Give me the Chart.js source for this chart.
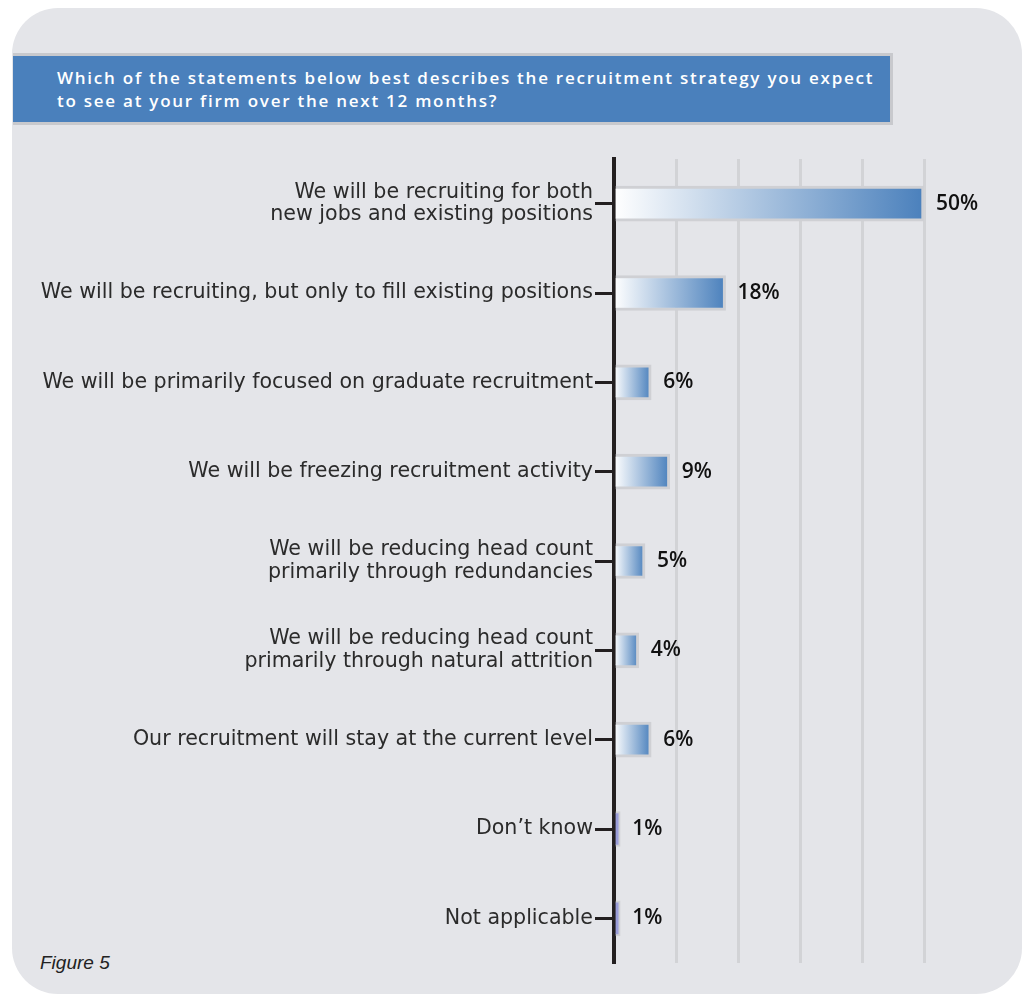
<!DOCTYPE html>
<html>
<head>
<meta charset="utf-8">
<script src="https://cdn.jsdelivr.net/npm/chart.js@4"></script>
<style>
  body { margin: 0; background: #ffffff; }
  .panel {
    position: absolute; left: 12px; top: 8px; width: 1010px; height: 986px;
    background: #e4e5e9; border-radius: 46px;
  }
  .question {
    position: absolute; left: 13px; top: 53px; width: 877px; height: 66px;
    background: #4a80bc; border: 3px solid #c8c9cd; border-left: none;
    color: #ffffff; font-family: "Open Sans", sans-serif; font-weight: 600;
    font-size: 17px; letter-spacing: 1.75px; line-height: 23px;
  }
  .question div { position: absolute; left: 44px; top: 10px; white-space: nowrap; }
  .figure {
    position: absolute; left: 40px; top: 952px;
    font-family: "Liberation Sans", Arial, sans-serif; font-style: italic;
    font-size: 19px; color: #222;
  }
  #wrap { position: absolute; left: 0; top: 0; width: 1028px; height: 995px; }
</style>
</head>
<body>
<div class="panel"></div>
<div class="question"><div>Which of the statements below best describes the recruitment strategy you expect<br>to see at your firm over the next 12 months?</div></div>
<div class="figure">Figure 5</div>
<div id="wrap"><canvas id="strategyChart" width="1028" height="995"></canvas></div>

<script>
// ---------- DATA ----------
const statements = [
    ["We will be recruiting for both", "new jobs and existing positions"],
    "We will be recruiting, but only to fill existing positions",
    "We will be primarily focused on graduate recruitment",
    "We will be freezing recruitment activity",
    ["We will be reducing head count", "primarily through redundancies"],
    ["We will be reducing head count", "primarily through natural attrition"],
    "Our recruitment will stay at the current level",
    "Don\u2019t know",
    "Not applicable"
];
const shares = [50, 18, 6, 9, 5, 4, 6, 1, 1];
const axisMax = 50;
const gridStep = 10;

// Horizontal white-to-blue fill, one gradient per bar
function barFill(context) {
    const chart = context.chart;
    const value = context.raw;
    if (value <= 1) return "#9a9dd9";
    const x = chart.scales.x;
    if (!chart.chartArea || !x) return "#4a80bc";
    const x0 = x.getPixelForValue(0);
    const x1 = x.getPixelForValue(value);
    const grad = chart.ctx.createLinearGradient(x0, 0, x1, 0);
    grad.addColorStop(0, "#ffffff");
    grad.addColorStop(1, "#4a80bc");
    return grad;
}

// Percent labels to the right of each bar
const valueLabels = {
    id: "valueLabels",
    afterDatasetsDraw(chart) {
        const ctx = chart.ctx;
        const meta = chart.getDatasetMeta(0);
        ctx.save();
        ctx.font = "600 21px 'Open Sans', sans-serif";
        ctx.fillStyle = "#111111";
        ctx.textAlign = "left";
        ctx.textBaseline = "middle";
        meta.data.forEach((bar, i) => {
            ctx.fillText(shares[i] + "%", bar.x + 12, bar.y);
        });
        ctx.restore();
    }
};

const ctx = document.getElementById("strategyChart").getContext("2d");

new Chart(ctx, {
    type: "bar",
    data: {
        labels: statements,
        datasets: [{
            data: shares,
            backgroundColor: barFill,
            borderColor: "#cfd0d4",
            borderWidth: c => (c.raw <= 1 ? 2 : 3),
            barThickness: 35
        }]
    },
    options: {
        indexAxis: "y",
        responsive: false,
        animation: false,
        layout: { padding: { left: 0, right: 104, top: 159, bottom: 32 } },
        scales: {
            x: {
                min: 0,
                max: axisMax,
                ticks: { display: false, stepSize: gridStep },
                grid: {
                    drawTicks: false,
                    lineWidth: 3,
                    color: c => (c.tick && c.tick.value === 0) ? "rgba(0,0,0,0)" : "#d2d3d6"
                },
                border: { display: false }
            },
            y: {
                afterFit: scale => { scale.width = 614; },
                ticks: {
                    color: "#2b2b2b",
                    padding: 2,
                    font: { family: "'DejaVu Sans', sans-serif", size: 20.6, lineHeight: 1.1 }
                },
                grid: {
                    offset: false,
                    drawOnChartArea: false,
                    drawTicks: true,
                    tickLength: 19,
                    tickWidth: 3,
                    tickColor: "#231f20"
                },
                border: { color: "#231f20", width: 4 }
            }
        },
        plugins: {
            legend: { display: false },
            tooltip: { enabled: false }
        }
    },
    plugins: [valueLabels]
});
</script>
</body>
</html>
